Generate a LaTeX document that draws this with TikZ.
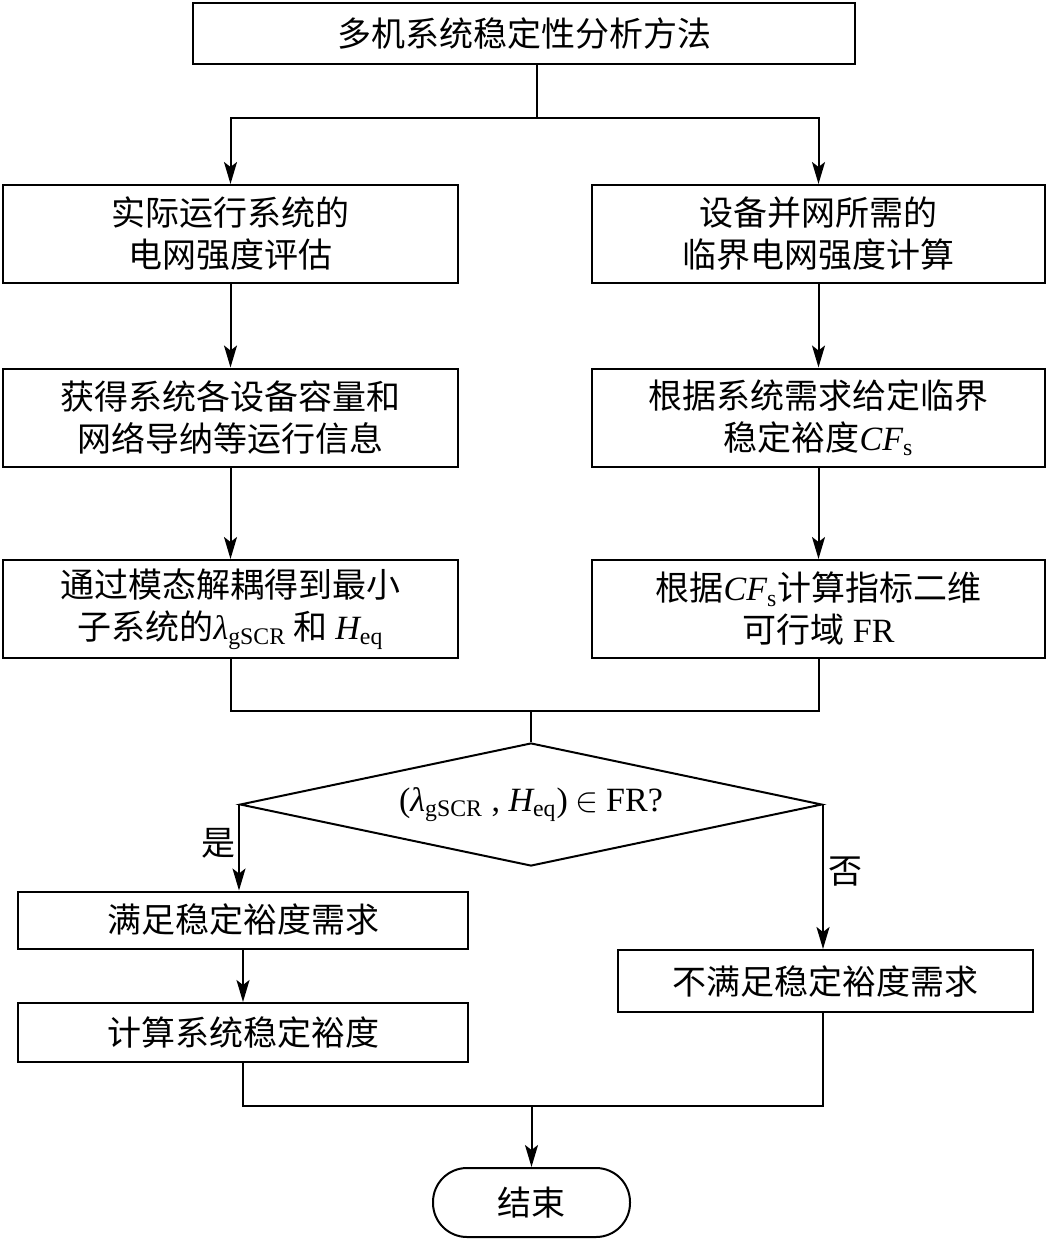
\documentclass[tikz,border=0pt]{standalone}
\usepackage{fontspec}
\setmainfont{Noto Sans CJK SC}
\newfontfamily\tnr{Liberation Serif}
\usetikzlibrary{shapes.geometric,arrows.meta}

\newcommand{\lat}[1]{{\tnr #1}}
\newcommand{\sym}[2]{{\tnr\itshape #1}{\tnr\textsubscript{#2}}}

\begin{document}
\begin{tikzpicture}[
    x=0.5pt, y=-0.5pt,
    font=\fontsize{17pt}{21pt}\selectfont,
    >={Stealth[length=11pt,width=6.5pt,inset=2.5pt]},
    line width=1pt,
    stepbox/.style={
        rectangle,
        draw,
        minimum width=227.5pt,
        minimum height=49pt,
        inner sep=2pt,
        align=center
    },
    resultbox/.style={
        stepbox,
        minimum height=28.5pt
    },
    decision/.style={
        diamond,
        draw,
        aspect=4.7,
        inner sep=0pt,
        minimum width=291pt,
        minimum height=61.5pt
    },
    terminal/.style={
        rectangle,
        draw,
        rounded corners=17pt,
        minimum width=98.5pt,
        minimum height=34.5pt
    }
]
\useasboundingbox (0,0) rectangle (1051,1241);

\node[stepbox, minimum width=331pt, minimum height=30.5pt] (method) at (524,33.5) {多机系统稳定性分析方法};

% actual system
\node[stepbox] (actual) at (230.5,234) {实际运行系统的\\电网强度评估};
\node[stepbox] (info) at (230.5,417.5) {获得系统各设备容量和\\网络导纳等运行信息};
\node[stepbox] (decouple) at (230.5,609) {通过模态解耦得到最小\\子系统的\sym{λ}{gSCR} 和 \sym{H}{eq}};

% critical strength
\node[stepbox, minimum width=226.5pt] (critical) at (818.5,234) {设备并网所需的\\临界电网强度计算};
\node[stepbox, minimum width=226.5pt] (margin) at (818.5,417.5) {根据系统需求给定临界\\稳定裕度\sym{CF}{s}};
\node[stepbox, minimum width=226.5pt] (region) at (818.5,609) {根据\sym{CF}{s}计算指标二维\\可行域\lat{ FR}};

\node[decision] (check) at (531,804.5) {\lat{(}\sym{λ}{gSCR}\lat{ , }\sym{H}{eq}\lat{)} $\in$ \lat{FR?}};
\node (yes) at (218,843) {是};
\node (no) at (845,872) {否};

\node[resultbox, minimum width=225pt] (ok) at (243,920) {满足稳定裕度需求};
\node[resultbox, minimum width=225pt, minimum height=29.5pt] (calc) at (243,1032.5) {计算系统稳定裕度};
\node[resultbox, minimum width=207.5pt, minimum height=31pt] (fail) at (825.5,981) {不满足稳定裕度需求};
\node[terminal] (finish) at (531.5,1202.5) {结束};

\coordinate (split) at (537,118);
\coordinate (merge) at (531,711);
\coordinate (join) at (531.5,1106);

\draw (method.south -| split) -- (split);
\draw[->] (split) -| (actual.north);
\draw[->] (split) -| (critical.north);

\draw[->] (actual) -- (info);
\draw[->] (info) -- (decouple);
\draw[->] (critical) -- (margin);
\draw[->] (margin) -- (region);

\draw (decouple.south) |- (merge);
\draw (region.south) |- (merge);
\draw (merge) -- (check.north);

\draw[->] (check.west) -- (check.west |- ok.north);
\draw[->] (check.east) -- (check.east |- fail.north);
\draw[->] (ok) -- (calc);

\draw (calc.south) |- (join);
\draw (fail.south -| check.east) |- (join);
\draw[->] (join) -- (finish.north);

\end{tikzpicture}
\end{document}
